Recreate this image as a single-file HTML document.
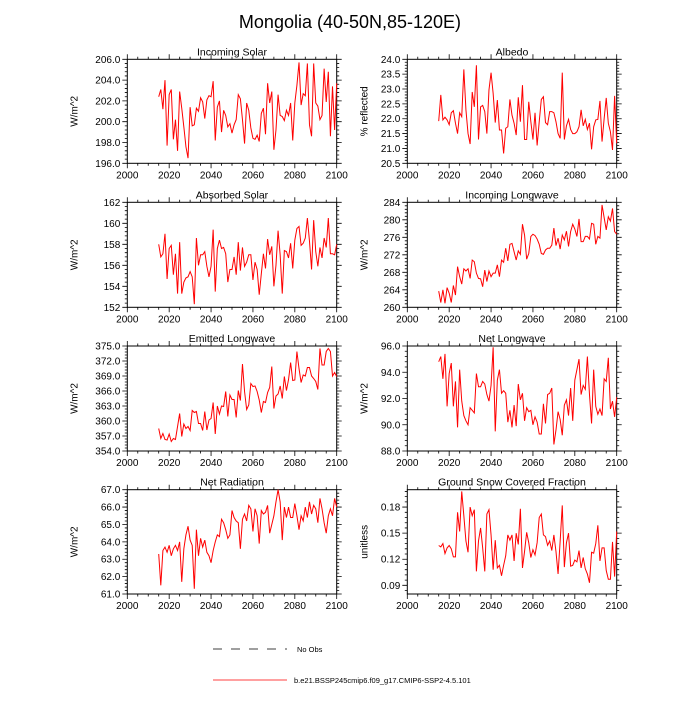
<!DOCTYPE html>
<html><head><meta charset="utf-8"><style>
html,body{margin:0;padding:0;background:#fff;}
svg text{font-family:"Liberation Sans",sans-serif;fill:#000;}
</style></head><body>
<svg id="c" width="700" height="700" viewBox="0 0 700 700" xmlns="http://www.w3.org/2000/svg">
<text x="350" y="28" font-size="18" text-anchor="middle">Mongolia (40-50N,85-120E)</text>
<g>
<line x1="213" y1="649" x2="287" y2="649" stroke="#000" stroke-width="0.8" stroke-dasharray="9,9"/>
<text x="297" y="652" font-size="7.5">No Obs</text>
<line x1="213" y1="680" x2="287" y2="680" stroke="#f00" stroke-width="0.8"/>
<text x="294" y="683" font-size="7.5">b.e21.BSSP245cmip6.f09_g17.CMIP6-SSP2-4.5.101</text>
</g>
</svg>
<script>
const years=[];for(let y=2015;y<=2100;y++)years.push(y);
const xTicks=[2000,2020,2040,2060,2080,2100];
const incomingSolar=[202.4,203.1,201.2,204.0,197.7,202.6,203.1,198.3,200.2,197.2,202.9,201.3,199.5,197.6,196.5,201.4,199.6,199.7,201.3,201.0,202.3,201.9,200.3,202.1,202.5,202.4,203.9,198.2,201.4,202.0,199.0,201.1,200.6,199.5,199.8,198.9,199.7,200.2,202.6,202.2,200.2,197.9,201.8,201.1,199.4,198.4,198.3,198.7,198.1,200.8,201.3,198.8,203.7,201.8,202.9,197.3,199.2,202.6,200.6,200.5,200.1,201.1,200.6,201.8,198.2,201.8,203.5,205.7,201.6,202.7,202.5,205.6,199.7,198.6,205.6,201.8,201.5,200.2,200.6,205.1,201.9,204.8,198.6,203.4,199.2,203.7];
const albedo=[21.92,22.8,21.96,22.05,21.96,21.8,22.2,22.27,21.85,21.5,22.2,22.07,23.66,22.3,21.5,21.15,22.9,22.4,23.8,21.3,22.4,22.45,22.24,21.5,22.97,23.55,22.85,21.87,22.63,21.62,21.62,20.83,21.68,21.73,22.65,22.12,21.85,21.45,22.72,21.9,23.13,21.3,21.3,22.57,21.9,21.3,22.2,21.1,21.9,22.65,22.74,21.87,21.8,22.24,22.24,22.2,21.9,21.5,21.34,23.55,21.3,21.76,21.98,21.64,21.5,21.5,21.56,21.73,22.3,21.76,21.98,21.64,21.85,20.97,21.73,21.96,21.98,22.6,21.23,22.0,22.7,21.85,21.56,20.95,22.77,21.17];
const absorbedSolar=[158.0,156.8,157.1,159.0,154.7,157.6,157.9,155.1,157.1,153.3,158.2,153.3,154.4,154.8,154.9,155.4,154.9,152.3,158.6,156.0,157.0,157.0,157.3,155.9,154.9,155.9,159.4,153.5,157.6,158.4,157.6,157.7,157.1,154.4,155.6,155.6,156.8,155.1,158.2,155.5,157.7,155.9,156.3,157.0,157.0,154.6,156.3,155.6,153.2,155.2,157.1,155.7,158.5,157.0,157.8,154.0,156.0,159.3,157.0,153.3,157.4,157.3,156.7,158.1,155.7,158.4,159.5,159.7,157.9,158.1,158.6,160.5,158.3,155.6,160.3,157.3,155.9,157.7,156.7,158.6,157.7,160.5,157.1,157.1,157.0,158.0];
const incomingLW=[263.7,261.1,264.0,260.9,264.5,263.2,261.1,265.0,262.8,269.3,267.0,265.3,268.8,268.3,268.8,266.6,270.8,270.4,267.8,266.6,266.5,264.7,268.5,265.9,268.3,267.0,267.8,267.8,269.7,267.0,270.8,270.3,273.5,270.6,274.4,274.6,272.7,270.8,272.9,272.1,279.0,276.5,271.0,272.3,276.2,276.7,276.4,275.6,274.4,272.3,272.1,273.1,273.5,273.5,274.2,278.1,274.1,275.8,273.3,276.5,275.4,277.4,273.9,277.3,279.0,277.9,276.2,280.2,275.0,275.0,276.2,276.2,275.6,279.2,279.0,274.4,276.2,275.8,283.4,280.5,277.7,280.7,279.7,282.6,277.3,276.7];
const emittedLW=[358.5,356.5,357.5,356.3,356.2,357.4,355.9,356.5,356.3,358.9,361.5,356.9,359.4,358.5,358.9,358.1,362.1,361.7,361.9,359.5,359.5,358.1,361.9,358.2,360.2,360.5,363.7,357.4,363.0,361.4,363.0,362.9,365.9,360.9,365.2,364.3,364.3,360.7,366.1,364.1,371.4,365.9,362.3,363.2,367.5,366.9,367.0,365.9,364.2,361.7,363.9,363.7,365.7,366.7,370.9,362.5,365.0,365.4,367.0,364.5,368.9,366.1,368.3,371.7,368.1,368.2,373.9,370.5,367.7,369.2,369.0,370.7,370.7,369.0,368.5,367.9,366.3,374.5,371.2,371.2,373.9,374.5,373.9,369.0,369.7,368.9];
const netLW=[94.8,95.2,93.5,95.4,91.4,93.9,94.7,91.4,93.3,89.8,94.2,91.8,90.7,90.3,90.0,91.3,91.1,90.9,93.9,92.9,92.9,93.3,93.1,92.3,91.8,93.0,95.9,89.5,93.4,94.2,92.4,92.6,92.4,90.2,91.1,89.8,91.5,89.9,93.1,91.9,92.4,90.3,91.3,91.0,91.1,90.0,90.6,90.2,89.3,89.3,91.6,90.1,92.3,92.4,92.8,88.5,89.6,91.0,90.4,89.2,91.5,91.9,90.7,92.8,90.3,93.4,94.2,95.0,92.3,93.0,92.7,95.2,92.3,90.1,94.2,91.4,90.8,91.2,90.7,93.5,93.3,95.1,91.2,91.8,90.6,92.1];
const netRad=[63.3,61.5,63.5,63.7,63.4,63.8,63.2,63.6,63.8,63.5,64.0,61.7,63.6,64.4,64.9,64.1,63.8,61.3,64.7,63.2,64.2,63.7,64.1,63.4,63.2,62.8,63.5,64.0,64.4,64.3,65.3,65.1,64.7,64.2,64.4,65.8,65.4,65.2,65.1,63.6,65.3,65.6,65.2,66.1,65.9,64.6,65.9,65.5,63.9,65.8,65.6,65.7,66.1,64.5,65.0,65.5,66.3,67.0,66.3,64.1,66.0,65.4,66.0,65.4,65.4,66.2,65.5,64.7,65.5,65.2,66.0,65.4,66.3,65.6,66.1,65.9,65.1,66.5,65.9,65.1,64.5,65.5,65.9,65.5,66.5,66.0];
const snowFrac=[0.1358,0.1342,0.138,0.1265,0.133,0.1358,0.132,0.1227,0.1227,0.174,0.152,0.198,0.170,0.141,0.128,0.180,0.170,0.177,0.106,0.141,0.156,0.133,0.106,0.172,0.177,0.148,0.108,0.142,0.110,0.113,0.101,0.113,0.124,0.148,0.142,0.148,0.118,0.150,0.137,0.178,0.110,0.129,0.151,0.139,0.122,0.131,0.125,0.139,0.168,0.172,0.148,0.146,0.136,0.141,0.130,0.148,0.129,0.103,0.141,0.182,0.111,0.139,0.150,0.112,0.113,0.119,0.117,0.130,0.110,0.122,0.109,0.103,0.093,0.128,0.127,0.138,0.159,0.118,0.133,0.133,0.107,0.097,0.097,0.140,0.100,0.152];
const panels=[
 {n:'incoming-solar',t:'Incoming Solar',yl:'W/m^2',d:incomingSolar,min:196,max:206,ticks:[196,198,200,202,204,206],dec:1,col:0,row:0},
 {n:'albedo',t:'Albedo',yl:'% reflected',d:albedo,min:20.5,max:24,ticks:[20.5,21,21.5,22,22.5,23,23.5,24],dec:1,col:1,row:0},
 {n:'absorbed-solar',t:'Absorbed Solar',yl:'W/m^2',d:absorbedSolar,min:152,max:162,ticks:[152,154,156,158,160,162],dec:0,col:0,row:1},
 {n:'incoming-longwave',t:'Incoming Longwave',yl:'W/m^2',d:incomingLW,min:260,max:284,ticks:[260,264,268,272,276,280,284],dec:0,col:1,row:1},
 {n:'emitted-longwave',t:'Emitted Longwave',yl:'W/m^2',d:emittedLW,min:354,max:375,ticks:[354,357,360,363,366,369,372,375],dec:1,col:0,row:2},
 {n:'net-longwave',t:'Net Longwave',yl:'W/m^2',d:netLW,min:88,max:96,ticks:[88,90,92,94,96],dec:1,col:1,row:2},
 {n:'net-radiation',t:'Net Radiation',yl:'W/m^2',d:netRad,min:61,max:67,ticks:[61,62,63,64,65,66,67],dec:1,col:0,row:3},
 {n:'snow-fraction',t:'Ground Snow Covered Fraction',yl:'unitless',d:snowFrac,min:0.08,max:0.2,ticks:[0.09,0.12,0.15,0.18],dec:2,col:1,row:3}
];
const colX=[127.3,407.3], W=209.4;
const titleOff=[50,40];
const rowY=[[59.3,163.3],[202.3,307.3],[346,451],[489.7,594]];
const NS='http://www.w3.org/2000/svg';
const svg=document.getElementById('c');
function mk(tag,attrs,parent){const e=document.createElementNS(NS,tag);for(const k in attrs)e.setAttribute(k,attrs[k]);parent.appendChild(e);return e;}
panels.forEach(p=>{
 const x0=colX[p.col],x1=x0+W,y0=rowY[p.row][0],y1=rowY[p.row][1];
 const g=mk('g',{},svg);
 
 
 const xs=v=>x0+(v-2000)/100*W;
 const ys=v=>y1-(v-p.min)/(p.max-p.min)*(y1-y0);
 const t=mk('text',{x:(x0+x1)/2,y:y0-4,'font-size':'10.5','text-anchor':'middle'},g);t.textContent=p.t;
 
 
 let tk='';
 for(let v=2000;v<=2100;v+=5){const X=xs(v);const L=(v%20===0)?5:2.5;tk+=`M${X},${y1}v${L}M${X},${y0}v${-L}`;}
 xTicks.forEach(v=>{const tx=mk('text',{x:xs(v),y:y1+15,'font-size':'10','text-anchor':'middle'},g);tx.textContent=v;
  
  });
 const step=p.ticks[1]-p.ticks[0];
 for(let i=0;i<p.ticks.length;i++){const Y=ys(p.ticks[i]);tk+=`M${x0},${Y}h-5M${x1},${Y}h5`;
  const ty=mk('text',{x:x0-7,y:Y+3.5,'font-size':'10','text-anchor':'end'},g);ty.textContent=p.ticks[i].toFixed(p.dec);
  
  }
 for(let v=p.ticks[0]-step;v<=p.max+1e-9;v+=step/5){if(v<p.min-1e-9)continue;const Y=ys(v);tk+=`M${x0},${Y}h-2.5M${x1},${Y}h2.5`;}
 const tp=mk('path',{d:tk,stroke:'#000','stroke-width':'0.8',fill:'none'},g);
 
 
 const fr=mk('rect',{x:x0,y:y0,width:W,height:y1-y0,fill:'none',stroke:'#000','stroke-width':'1'},g);
 
 
 const cx=x0-titleOff[p.col],cy=(y0+y1)/2;
 const yt=mk('text',{x:cx,y:cy,'font-size':'10','text-anchor':'middle',transform:`rotate(-90 ${cx} ${cy})`},g);yt.textContent=p.yl;
 
 
 const pts=p.d.map((v,i)=>xs(years[i]).toFixed(2)+','+ys(v).toFixed(2)).join(' ');
 const ln=mk('polyline',{points:pts,fill:'none',stroke:'#f00','stroke-width':'1'},g);
 
 
});
</script>
</body></html>
